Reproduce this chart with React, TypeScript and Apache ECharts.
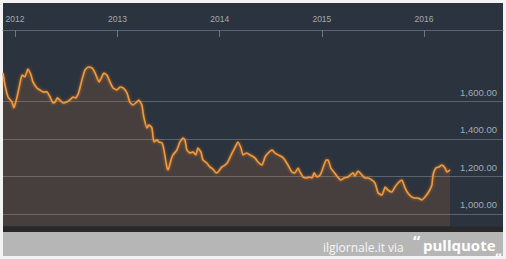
import React, { useEffect, useRef } from "react";
import * as echarts from "echarts";

const dates = [
  "2011-11-19","2011-11-26","2011-12-07","2011-12-21","2011-12-28",
  "2012-01-08","2012-01-19","2012-01-26","2012-02-05","2012-02-16","2012-02-27","2012-03-05","2012-03-19","2012-03-30","2012-04-10","2012-04-24","2012-05-05","2012-05-16","2012-05-23","2012-05-31","2012-06-09","2012-06-20","2012-07-04","2012-07-15","2012-07-26","2012-08-05","2012-08-16","2012-08-27","2012-09-07","2012-09-18","2012-10-02","2012-10-13","2012-10-27","2012-11-06","2012-11-13","2012-11-24","2012-12-05","2012-12-16","2012-12-30",
  "2013-01-10","2013-01-21","2013-02-04","2013-02-14","2013-02-25","2013-03-11","2013-03-18","2013-03-29","2013-04-05","2013-04-16","2013-04-23","2013-05-04","2013-05-11","2013-05-22","2013-05-29","2013-06-09","2013-06-16","2013-06-27","2013-07-01","2013-07-11","2013-07-18","2013-08-01","2013-08-12","2013-08-23","2013-08-30","2013-09-06","2013-09-17","2013-09-27","2013-10-08","2013-10-15","2013-10-26","2013-11-02","2013-11-16","2013-11-27","2013-12-08","2013-12-19","2013-12-26",
  "2014-01-09","2014-01-20","2014-01-30","2014-02-14","2014-02-24","2014-03-07","2014-03-18","2014-03-25","2014-04-08","2014-04-19","2014-05-07","2014-05-18","2014-06-01","2014-06-12","2014-06-23","2014-07-07","2014-07-18","2014-07-29","2014-08-12","2014-08-22","2014-09-02","2014-09-16","2014-09-27","2014-10-08","2014-10-15","2014-10-26","2014-11-09","2014-11-16","2014-11-27","2014-12-04","2014-12-15","2014-12-26",
  "2015-01-05","2015-01-16","2015-01-23","2015-02-02","2015-02-13","2015-02-27","2015-03-10","2015-03-21","2015-04-04","2015-04-22","2015-04-29","2015-05-10","2015-05-24","2015-06-04","2015-06-15","2015-06-29","2015-07-10","2015-07-21","2015-08-04","2015-08-15","2015-08-25","2015-09-08","2015-09-19","2015-09-30","2015-10-14","2015-10-25","2015-11-04","2015-11-18","2015-11-29","2015-12-10","2015-12-24",
  "2016-01-04","2016-01-15","2016-01-29","2016-02-02","2016-02-12","2016-02-23","2016-03-05","2016-03-16","2016-03-23","2016-04-03",
];

const prices = [
  1752,1688,1624,1597,1565,
  1624,1699,1741,1731,1773,1741,1704,1672,1661,1651,1651,1624,1592,1597,1619,1608,1592,1597,1608,1624,1619,1651,1715,1768,1784,1779,1752,1704,1731,1752,1741,1704,1672,1661,
  1677,1672,1645,1597,1581,1597,1608,1581,1517,1459,1475,1459,1384,1395,1384,1379,1341,1245,1235,1288,1315,1341,1384,1405,1395,1341,1325,1331,1315,1352,1331,1288,1272,1251,1240,1219,1224,
  1251,1261,1277,1325,1352,1384,1352,1315,1325,1315,1299,1277,1261,1304,1325,1341,1325,1315,1304,1288,1261,1224,1219,1245,1224,1197,1192,1197,1192,1219,1197,1208,
  1245,1288,1288,1245,1224,1197,1181,1192,1197,1219,1203,1229,1208,1192,1192,1181,1165,1112,1101,1144,1128,1117,1144,1165,1181,1139,1112,1091,1085,1085,1075,
  1091,1112,1155,1208,1245,1251,1261,1245,1224,1235,
];

const yearTicks = [2012, 2013, 2014, 2015, 2016];
const priceTicks = [1000, 1200, 1400, 1600];
const xRange = ["2011-11-19", "2016-10-09"];
const yRange = [936, 1981];

export default function App() {
  const ref = useRef<HTMLDivElement>(null);

  useEffect(() => {
    const chart = echarts.init(ref.current!, null, { renderer: "svg" });
    const toTime = (s: string) => {
      const [y, m, d] = s.split("-").map(Number);
      return new Date(y, m - 1, d).getTime();
    };
    const yearVals = yearTicks.map((y) => new Date(y, 0, 1).getTime());

    chart.setOption({
      animation: false,
      backgroundColor: "#f3f3f3",
      grid: { left: 3, right: 3, top: 30, bottom: 33 },
      xAxis: {
        type: "value",
        position: "top",
        min: toTime(xRange[0]),
        max: toTime(xRange[1]),
        axisLine: { show: true, lineStyle: { color: "#5b6672", width: 1 } },
        axisTick: {
          show: true,
          inside: true,
          length: 7,
          customValues: yearVals,
          lineStyle: { color: "#6b7682" },
        },
        axisLabel: {
          customValues: yearVals,
          formatter: (v: number) => String(new Date(v).getFullYear()),
          color: "#a2aab2",
          fontSize: 8.5,
          margin: 7,
          fontFamily: "Liberation Sans",
        },
        splitLine: { show: false },
      },
      yAxis: {
        type: "value",
        position: "right",
        min: yRange[0],
        max: yRange[1],
        axisLine: { show: false },
        axisTick: { show: false, customValues: priceTicks },
        axisLabel: {
          inside: true,
          customValues: priceTicks,
          formatter: (v: number) =>
            v.toLocaleString("en-US", { minimumFractionDigits: 2, maximumFractionDigits: 2 }),
          color: "#a3abb3",
          fontSize: 9.5,
          margin: 6,
          verticalAlign: "bottom",
          padding: [0, 0, 4, 0],
          fontFamily: "Liberation Sans",
        },
        splitLine: { show: true, lineStyle: { color: "#59636d", width: 1 } },
      },
      series: [
        {
          type: "line",
          data: dates.map((d, i) => [toTime(d), prices[i]]),
          showSymbol: false,
          smooth: 0.15,
          lineStyle: {
            color: "#f09a40",
            width: 1.6,
            shadowColor: "rgba(240,130,30,0.75)",
            shadowBlur: 3,
          },
          areaStyle: { color: "rgba(232,140,60,0.21)", origin: "start" },
        },
      ],
      graphic: [
        { type: "rect", z: -100, silent: true, shape: { x: 3, y: 3, width: 500, height: 229 }, style: { fill: "#2b333e" } },
        { type: "rect", z: 50, silent: true, shape: { x: 3, y: 226.5, width: 500, height: 5.5 }, style: { fill: "#29292a" } },
        { type: "rect", z: 50, silent: true, shape: { x: 3, y: 232, width: 500, height: 24 }, style: { fill: "#b6b6b6" } },
        {
          type: "text", z: 51, x: 323, y: 247,
          style: { text: "ilgiornale.it via", fill: "#f7f7f7", fontSize: 12, fontFamily: "Open Sans", verticalAlign: "middle", align: "left" },
        },
        {
          type: "text", z: 51, x: 413, y: 242,
          style: { text: "\u201C", fill: "#ffffff", fontSize: 16, fontWeight: "bold", fontFamily: "Open Sans", verticalAlign: "middle", align: "left" },
        },
        {
          type: "text", z: 51, x: 423, y: 245,
          style: { text: "pullquote", fill: "#ffffff", fontSize: 15, fontWeight: "bold", fontFamily: "Open Sans", verticalAlign: "middle", align: "left" },
        },
        {
          type: "text", z: 51, x: 495, y: 249,
          style: { text: "\u201E", fill: "#ffffff", fontSize: 14, fontWeight: "bold", fontFamily: "Open Sans", verticalAlign: "middle", align: "left" },
        },
      ],
    });

    return () => chart.dispose();
  }, []);

  return (
    <div
      ref={ref}
      style={{ position: "fixed", left: 0, top: 0, width: 506, height: 259 }}
    />
  );
}
